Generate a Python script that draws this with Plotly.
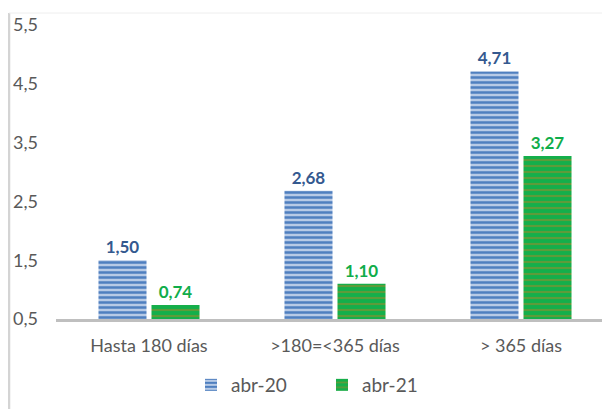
import plotly.graph_objects as go

categories = ["Hasta 180 días", ">180=<365 días", "> 365 días"]
series_names = ["abr-20", "abr-21"]
abr20 = [1.50, 2.68, 4.71]
abr21 = [0.74, 1.10, 3.27]
y_ticks = [0.5, 1.5, 2.5, 3.5, 4.5, 5.5]

FONT = "Lato, 'Open Sans', sans-serif"
W, H = 610, 409
OFF = 8  # page body margin
ML, MR, MT = 56 - OFF, 0, 25 - OFF
MB = H - (319 - OFF)
pw, ph = W - ML - MR, H - MT - MB

fig = go.Figure()
fig.add_trace(go.Bar(
    name=series_names[0], x=categories, y=abr20,
    marker=dict(color="#B7CAE6", line=dict(width=0),
                pattern=dict(shape="-", fgcolor="#4F7FBF", bgcolor="#B7CAE6",
                             size=5, solidity=0.5, fillmode="replace")),
    texttemplate="%{y:.2f}",
    textposition="outside", cliponaxis=False,
    textfont=dict(family=FONT, size=17, color="#34598F", weight="bold"),
))
fig.add_trace(go.Bar(
    name=series_names[1], x=categories, y=abr21,
    marker=dict(color="#14AF4B", line=dict(width=0),
                pattern=dict(shape="-", fgcolor="#5E9B3A", bgcolor="#14AF4B",
                             size=6, solidity=0.35, fillmode="replace")),
    texttemplate="%{y:.2f}",
    textposition="outside", cliponaxis=False,
    textfont=dict(family=FONT, size=17, color="#10AD4A", weight="bold"),
))

# chart area border (partially visible)
bx = (9 - OFF - ML) / pw
by = (H - MB - (13 - OFF)) / ph
fig.add_shape(type="line", xref="paper", yref="paper",
              x0=bx, x1=bx, y0=-MB / ph, y1=by,
              line=dict(color="#D4D4D4", width=2.5))
fig.add_shape(type="line", xref="paper", yref="paper",
              x0=bx, x1=1.05, y0=by, y1=by,
              line=dict(color="#EEEEEE", width=1))

fig.update_layout(
    width=W, height=H,
    margin=dict(l=ML, r=MR, t=MT, b=MB, autoexpand=False),
    paper_bgcolor="white", plot_bgcolor="white",
    separators=",.",
    barmode="group", bargap=0.43, bargroupgap=0.094,
    font=dict(family=FONT, color="#595959", size=18),
    showlegend=True,
    legend=dict(orientation="h", x=(183 - ML) / pw, xanchor="left",
                y=(H - MB - (385 - OFF)) / ph, yanchor="middle",
                font=dict(family=FONT, size=19, color="#595959"),
                entrywidth=86, entrywidthmode="pixels",
                itemwidth=30, traceorder="normal"),
    xaxis=dict(range=[-0.5, -0.5 + pw / 186.0], showline=True,
               linecolor="#BFBFBF", linewidth=2.5, showgrid=False,
               automargin=False,
               ticks="", tickfont=dict(family=FONT, size=18, color="#595959"),
               ticklabelstandoff=9),
    yaxis=dict(range=[0.5, 5.5], tickvals=y_ticks, tickformat=".1f",
               showgrid=False, zeroline=False, showline=False,
               automargin=False,
               ticks="", ticklabelstandoff=17,
               tickfont=dict(family=FONT, size=18, color="#595959")),
)

fig.write_html("out.html")
